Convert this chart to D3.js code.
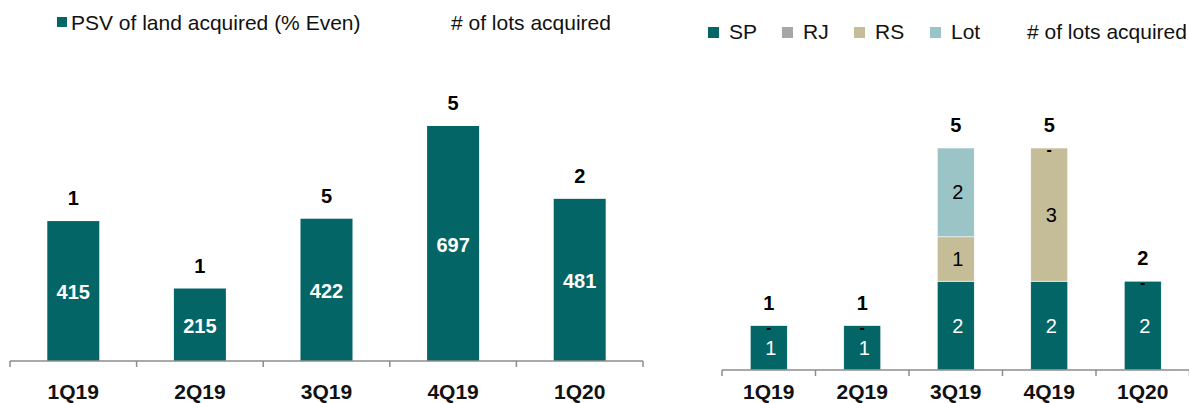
<!DOCTYPE html>
<html>
<head>
<meta charset="utf-8">
<script src="https://cdn.jsdelivr.net/npm/d3@7"></script>
<style>
  body { margin: 0; background: #fff; }
  svg { display: block; font-family: "Liberation Sans", Arial, sans-serif; }
</style>
</head>
<body>
<svg id="chart" width="1189" height="403"></svg>
<script>
const quarters = ['1Q19', '2Q19', '3Q19', '4Q19', '1Q20'];

// left chart
const psvValues = [415, 215, 422, 697, 481];
const psvLots = [1, 1, 5, 5, 2];

// right chart (lots by state)
const spLots = [1, 1, 2, 2, 2];
const rjLots = [0, 0, 0, 0, 0];
const rsLots = [0, 0, 1, 3, 0];
const lotLots = [0, 0, 2, 0, 0];
const totalLots = [1, 1, 5, 5, 2];
const dashQuarters = ['1Q19', '2Q19', '4Q19', '1Q20'];

const colors = { SP: '#036566', RJ: '#a6a6a6', RS: '#c4bd97', Lot: '#9bc4c6' };
const axisColor = '#8c8c8c';

const svg = d3.select('#chart');

function drawAxis(g, x, y0) {
  const axis = g.append('g');
  const [a, b] = x.range();
  axis.append('line')
    .attr('x1', a).attr('x2', b)
    .attr('y1', y0).attr('y2', y0)
    .attr('stroke', axisColor).attr('stroke-width', 1.5);
  const ticks = quarters.map(q => x(q)).concat([b]);
  axis.selectAll('.tick')
    .data(ticks).enter().append('line')
    .attr('x1', d => d).attr('x2', d => d)
    .attr('y1', y0).attr('y2', y0 + 6)
    .attr('stroke', axisColor).attr('stroke-width', 1.5);
  axis.selectAll('.cat')
    .data(quarters).enter().append('text')
    .attr('x', d => x(d) + x.bandwidth() / 2)
    .attr('y', 399)
    .attr('text-anchor', 'middle')
    .attr('font-size', 21).attr('font-weight', 'bold')
    .attr('fill', '#111')
    .text(d => d);
}

// ---------- left chart ----------
{
  const g = svg.append('g');
  const x = d3.scaleBand().domain(quarters).range([10, 643]);
  const bw = 52;
  const base = 361;
  const y = d3.scaleLinear().domain([0, 697]).range([base, 126]);
  const cx = q => x(q) + x.bandwidth() / 2;

  g.selectAll('.bar')
    .data(quarters).enter().append('rect')
    .attr('x', d => cx(d) - bw / 2)
    .attr('width', bw)
    .attr('y', (d, i) => y(psvValues[i]))
    .attr('height', (d, i) => base - y(psvValues[i]))
    .attr('fill', colors.SP);

  g.selectAll('.val')
    .data(quarters).enter().append('text')
    .attr('x', cx)
    .attr('y', (d, i) => (y(psvValues[i]) + base) / 2 + 8)
    .attr('text-anchor', 'middle')
    .attr('font-size', 20).attr('font-weight', 'bold')
    .attr('fill', '#fff')
    .text((d, i) => psvValues[i]);

  g.selectAll('.lots')
    .data(quarters).enter().append('text')
    .attr('x', cx)
    .attr('y', (d, i) => y(psvValues[i]) - 16)
    .attr('text-anchor', 'middle')
    .attr('font-size', 20).attr('font-weight', 'bold')
    .attr('fill', '#000')
    .text((d, i) => psvLots[i]);

  drawAxis(g, x, base);

  // legend
  const lg = g.append('g');
  lg.append('rect').attr('x', 57).attr('y', 17).attr('width', 10).attr('height', 10).attr('fill', colors.SP);
  lg.append('text').attr('x', 71).attr('y', 30).attr('font-size', 21).attr('fill', '#111')
    .text('PSV of land acquired (% Even)');
  lg.append('text').attr('x', 451).attr('y', 30).attr('font-size', 21).attr('fill', '#111')
    .text('# of lots acquired');
}

// ---------- right chart ----------
{
  const g = svg.append('g');
  const x = d3.scaleBand().domain(quarters).range([722, 1189.5]);
  const bw = 37;
  const base = 370;
  const y = d3.scaleLinear().domain([0, 5]).range([base, 148]);
  const cx = q => x(q) + x.bandwidth() / 2;

  const series = [
    { key: 'SP', values: spLots, text: '#fff' },
    { key: 'RJ', values: rjLots, text: '#000' },
    { key: 'RS', values: rsLots, text: '#000' },
    { key: 'Lot', values: lotLots, text: '#000' }
  ];
  const rows = quarters.map((q, i) => {
    const r = { q };
    series.forEach(s => { r[s.key] = s.values[i]; });
    return r;
  });
  const stacked = d3.stack().keys(series.map(s => s.key))(rows);

  stacked.forEach((layer, li) => {
    const s = series[li];
    const lg = g.append('g');
    const segs = layer.filter(d => d[1] > d[0]);
    lg.selectAll('rect')
      .data(segs).enter().append('rect')
      .attr('x', d => cx(d.data.q) - bw / 2)
      .attr('width', bw)
      .attr('y', d => y(d[1]))
      .attr('height', d => y(d[0]) - y(d[1]))
      .attr('fill', colors[s.key])
      .attr('stroke', '#fff').attr('stroke-width', 0.6);
    lg.selectAll('text')
      .data(segs).enter().append('text')
      .attr('x', d => cx(d.data.q) + 2)
      .attr('y', d => (y(d[0]) + y(d[1])) / 2 + 7)
      .attr('text-anchor', 'middle')
      .attr('font-size', 20)
      .attr('fill', s.text)
      .text(d => d[1] - d[0]);
  });

  g.selectAll('.dash')
    .data(dashQuarters).enter().append('text')
    .attr('x', cx)
    .attr('y', d => y(totalLots[quarters.indexOf(d)]) + 7)
    .attr('text-anchor', 'middle')
    .attr('font-size', 16).attr('font-weight', 'bold')
    .attr('fill', '#000')
    .text('-');

  g.selectAll('.tot')
    .data(quarters).enter().append('text')
    .attr('x', cx)
    .attr('y', (d, i) => y(totalLots[i]) - 16)
    .attr('text-anchor', 'middle')
    .attr('font-size', 20).attr('font-weight', 'bold')
    .attr('fill', '#000')
    .text((d, i) => totalLots[i]);

  drawAxis(g, x, base);

  // legend
  const items = [
    { key: 'SP', x: 708 },
    { key: 'RJ', x: 782 },
    { key: 'RS', x: 854 },
    { key: 'Lot', x: 930 }
  ];
  const lg = g.append('g');
  items.forEach(it => {
    lg.append('rect').attr('x', it.x).attr('y', 27).attr('width', 11).attr('height', 11).attr('fill', colors[it.key]);
    lg.append('text').attr('x', it.x + 21).attr('y', 39).attr('font-size', 21).attr('fill', '#111').text(it.key);
  });
  lg.append('text').attr('x', 1027).attr('y', 39).attr('font-size', 21).attr('fill', '#111')
    .text('# of lots acquired');
}
</script>
</body>
</html>
